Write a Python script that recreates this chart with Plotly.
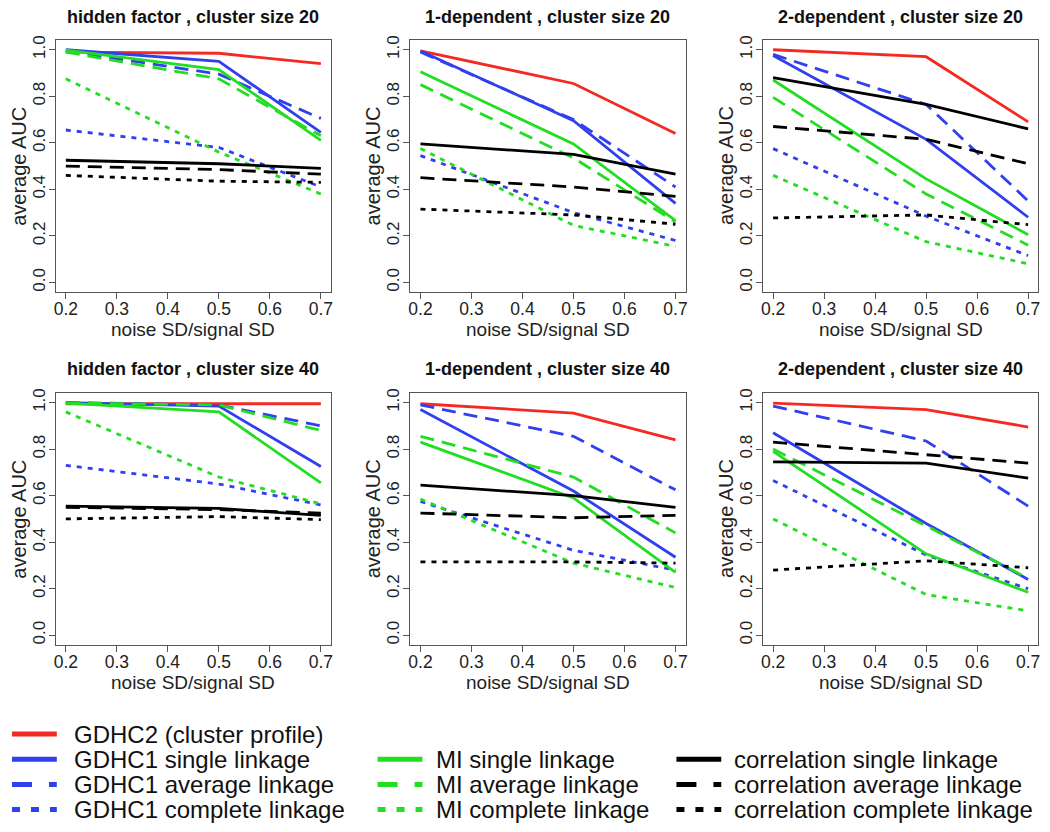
import plotly.graph_objects as go

# ---------------- data ----------------
noise_ratio = [0.2, 0.5, 0.7]
x_ticks = [0.2, 0.3, 0.4, 0.5, 0.6, 0.7]
x_tick_labels = ["0.2", "0.3", "0.4", "0.5", "0.6", "0.7"]
y_ticks = [0.0, 0.2, 0.4, 0.6, 0.8, 1.0]
y_tick_labels = ["0.0", "0.2", "0.4", "0.6", "0.8", "1.0"]

methods = [
    "GDHC2 (cluster profile)",
    "GDHC1 single linkage", "GDHC1 average linkage", "GDHC1 complete linkage",
    "MI single linkage", "MI average linkage", "MI complete linkage",
    "correlation single linkage", "correlation average linkage", "correlation complete linkage",
]

panel_titles = [
    "hidden factor , cluster size 20", "1-dependent , cluster size 20", "2-dependent , cluster size 20",
    "hidden factor , cluster size 40", "1-dependent , cluster size 40", "2-dependent , cluster size 40",
]

# rows follow the order of `methods`
hidden_factor_20 = [
    [0.99, 0.985, 0.94],
    [1.00, 0.95, 0.645], [0.995, 0.895, 0.705], [0.655, 0.58, 0.41],
    [0.998, 0.915, 0.61], [0.99, 0.875, 0.63], [0.875, 0.56, 0.38],
    [0.525, 0.51, 0.49], [0.50, 0.485, 0.465], [0.46, 0.435, 0.43],
]
one_dependent_20 = [
    [0.995, 0.855, 0.64],
    [0.995, 0.695, 0.34], [0.99, 0.70, 0.41], [0.545, 0.30, 0.18],
    [0.905, 0.595, 0.265], [0.85, 0.535, 0.26], [0.575, 0.245, 0.155],
    [0.595, 0.55, 0.465], [0.45, 0.41, 0.37], [0.315, 0.29, 0.25],
]
two_dependent_20 = [
    [1.00, 0.97, 0.69],
    [0.975, 0.615, 0.28], [0.98, 0.765, 0.35], [0.575, 0.285, 0.115],
    [0.87, 0.445, 0.205], [0.795, 0.38, 0.16], [0.46, 0.175, 0.08],
    [0.88, 0.765, 0.66], [0.67, 0.615, 0.51], [0.277, 0.29, 0.248],
]
hidden_factor_40 = [
    [0.995, 0.995, 0.995],
    [1.00, 0.985, 0.725], [1.00, 0.99, 0.90], [0.73, 0.65, 0.56],
    [0.998, 0.96, 0.655], [0.998, 0.99, 0.88], [0.96, 0.68, 0.565],
    [0.555, 0.545, 0.515], [0.55, 0.54, 0.525], [0.50, 0.51, 0.497],
]
one_dependent_40 = [
    [0.995, 0.955, 0.84],
    [0.97, 0.62, 0.335], [0.99, 0.855, 0.625], [0.575, 0.365, 0.28],
    [0.83, 0.59, 0.27], [0.855, 0.68, 0.44], [0.585, 0.31, 0.205],
    [0.645, 0.60, 0.55], [0.525, 0.505, 0.515], [0.315, 0.315, 0.31],
]
two_dependent_40 = [
    [0.998, 0.97, 0.895],
    [0.87, 0.48, 0.24], [0.985, 0.835, 0.555], [0.665, 0.345, 0.20],
    [0.79, 0.35, 0.185], [0.80, 0.47, 0.245], [0.50, 0.175, 0.105],
    [0.745, 0.74, 0.675], [0.83, 0.775, 0.74], [0.28, 0.32, 0.29],
]
panels = [hidden_factor_20, one_dependent_20, two_dependent_20,
          hidden_factor_40, one_dependent_40, two_dependent_40]

# ---------------- styles ----------------
RED, BLUE, GREEN, BLACK = "#f42a22", "#3040ee", "#22dd22", "#000000"
colors = [RED, BLUE, BLUE, BLUE, GREEN, GREEN, GREEN, BLACK, BLACK, BLACK]
styles = ["solid", "solid", "dash", "dot", "solid", "dash", "dot", "solid", "dash", "dot"]
panel_dash = {"solid": "solid", "dash": "14px,8px", "dot": "5px,6px"}
legend_dash = {"solid": "solid", "dash": "20px,17px", "dot": "8px,11px"}

FONT = "Liberation Sans, Arial, Helvetica, sans-serif"
OFF = 8                      # default page margin around the plot div
W, H = 1050 - OFF, 832 - OFF
AXC = "#555555"

col_left = [53.8, 409.8, 763.8]
box_w = 276.5
row_top = [35.6, 390.6]
box_h = 252.8


def fx(px):
    return (px - OFF) / W


def fy(py):
    return 1 - (py - OFF) / H


fig = go.Figure()
layout = dict(
    width=W, height=H,
    margin=dict(l=0, r=0, t=0, b=0),
    paper_bgcolor="white", plot_bgcolor="white",
    showlegend=False,
    font=dict(family=FONT, color="#111111"),
)
annotations = []
shapes = []

for p, data in enumerate(panels):
    r, c = divmod(p, 3)
    idx = "" if p == 0 else str(p + 1)
    left, top = col_left[c], row_top[r]
    right, bottom = left + box_w, top + box_h
    layout["xaxis" + idx] = dict(
        domain=[fx(left), fx(right)], anchor="y" + idx,
        range=[0.18, 0.72], tickvals=x_ticks, ticktext=x_tick_labels,
        showline=True, mirror=True, linecolor=AXC, linewidth=1,
        ticks="outside", ticklen=6, tickcolor=AXC, tickwidth=1,
        ticklabelstandoff=-5,
        showgrid=False, zeroline=False,
        tickfont=dict(family=FONT, size=17.5, color="#222222"),
        fixedrange=True,
    )
    layout["yaxis" + idx] = dict(
        domain=[fy(bottom), fy(top)], anchor="x" + idx,
        range=[-0.04, 1.04], tickvals=y_ticks, ticktext=y_tick_labels,
        showline=True, mirror=True, linecolor=AXC, linewidth=1,
        ticks="outside", ticklen=6, tickcolor=AXC, tickwidth=1,
        ticklabelstandoff=-3,
        showgrid=False, zeroline=False, tickangle=-90,
        tickfont=dict(family=FONT, size=17, color="#222222"),
        fixedrange=True,
    )
    for m, series in enumerate(data):
        fig.add_trace(go.Scatter(
            x=noise_ratio, y=series, mode="lines", name=methods[m],
            line=dict(color=colors[m], width=2.8, dash=panel_dash[styles[m]]),
            xaxis="x" + idx, yaxis="y" + idx, hoverinfo="skip",
        ))
    cx = left + box_w / 2
    annotations.append(dict(
        text="<b>" + panel_titles[p] + "</b>", x=fx(cx), y=fy(top - 24),
        xref="paper", yref="paper", xanchor="center", yanchor="middle",
        showarrow=False, font=dict(family=FONT, size=18, color="#111111")))
    annotations.append(dict(
        text="noise SD/signal SD", x=fx(cx), y=fy(bottom + 38),
        xref="paper", yref="paper", xanchor="center", yanchor="middle",
        showarrow=False, font=dict(family=FONT, size=19, color="#222222")))
    annotations.append(dict(
        text="average AUC", x=fx(left - 37), y=fy(top + box_h / 2),
        xref="paper", yref="paper", xanchor="center", yanchor="middle",
        textangle=-90, showarrow=False,
        font=dict(family=FONT, size=20, color="#222222")))

# ---------------- legend (three columns) ----------------
legend_cols = [[0, 1, 2, 3], [4, 5, 6], [7, 8, 9]]
legend_line_x = [(10, 55), (377, 422), (677, 722)]
legend_text_x = [70, 434, 733]
row0 = 733.5
row_step = 25.3
for ci, members in enumerate(legend_cols):
    start_row = 0 if ci == 0 else 1
    for k, m in enumerate(members):
        yy = row0 + (start_row + k) * row_step
        x0, x1 = legend_line_x[ci]
        shapes.append(dict(
            type="line", xref="paper", yref="paper",
            x0=fx(x0), x1=fx(x1), y0=fy(yy), y1=fy(yy),
            line=dict(color=colors[m], width=5, dash=legend_dash[styles[m]])))
        annotations.append(dict(
            text=methods[m], x=fx(legend_text_x[ci]), y=fy(yy),
            xref="paper", yref="paper", xanchor="left", yanchor="middle",
            showarrow=False, font=dict(family=FONT, size=24, color="#111111")))

layout["annotations"] = annotations
layout["shapes"] = shapes
fig.update_layout(**layout)
fig.write_html("out.html")
